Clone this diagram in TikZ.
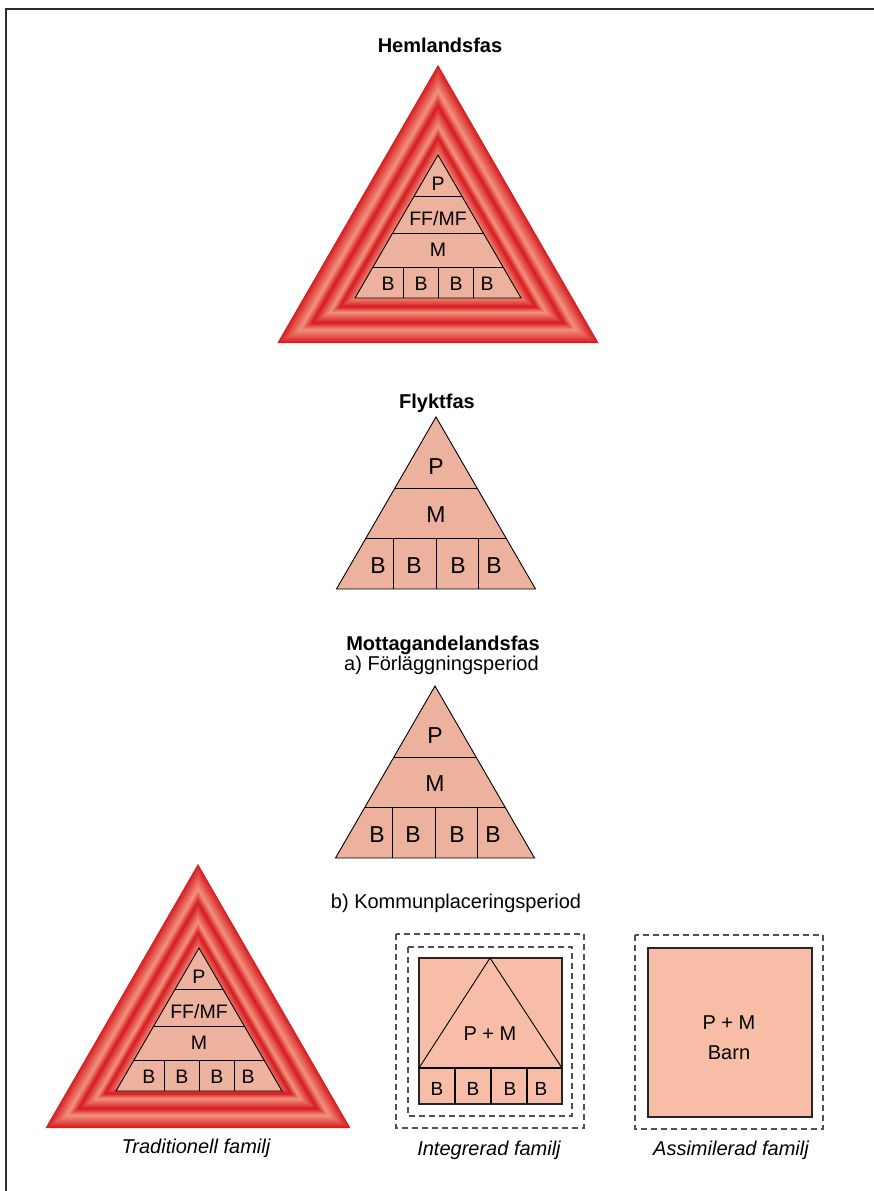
\documentclass[tikz,border=0pt]{standalone}
\usepackage{fontspec}
\setmainfont{Liberation Sans}
\definecolor{bevdark}{RGB}{215,28,32}
\definecolor{bevlight}{RGB}{243,148,128}
\definecolor{pyrfill}{RGB}{237,178,158}
\definecolor{sqfill}{RGB}{248,189,166}
\definecolor{framegray}{RGB}{45,45,45}
\definecolor{dashgray}{RGB}{80,80,80}
\newcommand\fsz[1]{\fontsize{#1}{#1}\selectfont}
% bevelled red triangle: centre x, centre y, inradius, band scale
\newcommand\bevtri[4]{%
  \foreach \bvk in {0,...,96}{%
    \pgfmathsetmacro\bvU{\bvk*0.5}%
    \pgfmathsetmacro\bvD{\bvU*#4}%
    \pgfmathsetmacro\bvA{\bvU<20 ? 0 : (\bvU<36 ? 20 : 36)}%
    \pgfmathsetmacro\bvB{\bvU<20 ? 20 : (\bvU<36 ? 36 : 51)}%
    \pgfmathsetmacro\bvT{(\bvU-\bvA)/(\bvB-\bvA)}%
    \pgfmathtruncatemacro\bvF{100*(\bvT<0.65 ? \bvT/0.65 : (1-\bvT)/0.35)}%
    \pgfmathsetmacro\bvR{#3-\bvD}%
    \fill[bevlight!\bvF!bevdark] ({#1},{#2-2*\bvR}) -- ({#1-1.7320508*\bvR},{#2+\bvR}) -- ({#1+1.7320508*\bvR},{#2+\bvR}) -- cycle;
  }}
% small pyramid with P, FF/MF, M, B B B B : name, apex x, apex y
\newcommand\smallpyr[3]{%
  \filldraw[pyrfill, draw=black, line width=0.9] ({#2},{#3}) -- ({#2-83},{#3+143}) -- ({#2+83},{#3+143}) -- cycle;
  \draw[line width=0.9] ({#2-23.8},{#3+41}) -- ({#2+23.8},{#3+41});
  \draw[line width=0.9] ({#2-45.3},{#3+78}) -- ({#2+45.3},{#3+78});
  \draw[line width=0.9] ({#2-65},{#3+112}) -- ({#2+65},{#3+112});
  \foreach \sx in {-35,0,35}{\draw[line width=0.9] ({#2+\sx},{#3+112}) -- ({#2+\sx},{#3+143});}
  \node[slbl] (#1P) at ({#2},{#3+35}) {P};
  \node[slbl] (#1F) at ({#2},{#3+70}) {FF/MF};
  \node[slbl] (#1M) at ({#2},{#3+101}) {M};
  \node[slbl] (#1Ba) at ({#2-50},{#3+135}) {B};
  \node[slbl] (#1Bb) at ({#2-17},{#3+135}) {B};
  \node[slbl] (#1Bc) at ({#2+18},{#3+135}) {B};
  \node[slbl] (#1Bd) at ({#2+49},{#3+135}) {B};
}
% big pyramid with P, M, B B B B
\newcommand\bigpyr[3]{%
  \filldraw[pyrfill, draw=black, line width=0.9] ({#2},{#3}) -- ({#2-99.5},{#3+172}) -- ({#2+99.5},{#3+172}) -- cycle;
  \draw[line width=0.9] ({#2-41.1},{#3+71}) -- ({#2+41.1},{#3+71});
  \draw[line width=0.9] ({#2-70},{#3+121}) -- ({#2+70},{#3+121});
  \foreach \sx in {-43,0,42}{\draw[line width=0.9] ({#2+\sx},{#3+121}) -- ({#2+\sx},{#3+172});}
  \node[blbl] (#1P) at ({#2},{#3+57}) {P};
  \node[blbl] (#1M) at ({#2},{#3+105}) {M};
  \node[blbl] (#1Ba) at ({#2-58},{#3+156}) {B};
  \node[blbl] (#1Bb) at ({#2-22},{#3+156}) {B};
  \node[blbl] (#1Bc) at ({#2+22},{#3+156}) {B};
  \node[blbl] (#1Bd) at ({#2+58},{#3+156}) {B};
}
\begin{document}
\begin{tikzpicture}[x=1pt,y=-1pt,
  title/.style={anchor=base, inner sep=0pt, font=\fsz{20}\bfseries},
  sub/.style={anchor=base, inner sep=0pt, font=\fsz{20}},
  capt/.style={anchor=base, inner sep=0pt, font=\fsz{20}\itshape},
  slbl/.style={anchor=base, inner sep=0pt, font=\fsz{19.5}},
  blbl/.style={anchor=base, inner sep=0pt, font=\fsz{23}},
  qlbl/.style={anchor=base, inner sep=0pt, font=\fsz{19}},
  dashbox/.style={draw=dashgray, line width=1.2, dash pattern=on 6 off 4},
  famsq/.style={fill=sqfill, draw=black!85, line width=1.3}]
\useasboundingbox (0,0) rectangle (874,1191);
\fill[white] (0,0) rectangle (874,1191);
% frame
\draw[framegray, line width=1.6] (874,9) -- (6,9) -- (6,1191);

% Hemlandsfas
\node[title] (t1) at (440,52) {Hemlandsfas};
\bevtri{438}{250.3}{92.7}{1}
\smallpyr{h}{438}{155}

% Flyktfas
\node[title] (t2) at (437,408) {Flyktfas};
\bigpyr{f}{436}{417}

% Mottagandelandsfas
\node[title] (t3) at (443,650) {Mottagandelandsfas};
\node[sub] (t3a) at (441.5,670) {a) Förläggningsperiod};
\bigpyr{m}{435}{686}
\node[sub] (t3b) at (456,908) {b) Kommunplaceringsperiod};

% Traditionell familj
\bevtri{198}{1040}{88}{0.95}
\smallpyr{tr}{199}{948}
\node[capt] (c1) at (196,1153) {Traditionell familj};

% Integrerad familj
\draw[dashbox] (396,934) rectangle (584,1128);
\draw[dashbox] (408,947) rectangle (572,1116);
\filldraw[famsq] (419,958) rectangle (562,1104);
\draw[line width=0.9] (490,958) -- (419,1068) -- (562,1068) -- cycle;
\draw[line width=1.1] (419,1068) -- (562,1068);
\foreach \vx in {455,491,527}{\draw[line width=1.1] (\vx,1068) -- (\vx,1104);}
\node[sub] (ipm) at (490,1040) {P + M};
\node[qlbl] (iBa) at (437,1095) {B};
\node[qlbl] (iBb) at (473,1095) {B};
\node[qlbl] (iBc) at (510,1095) {B};
\node[qlbl] (iBd) at (541,1095) {B};
\node[capt] (c2) at (489,1155) {Integrerad familj};

% Assimilerad familj
\draw[dashbox] (635,935) rectangle (823,1129);
\filldraw[famsq] (648,948) rectangle (812,1117);
\node[sub] (apm) at (729,1029) {P + M};
\node[sub] (abarn) at (729,1059) {Barn};
\node[capt] (c3) at (731,1155) {Assimilerad familj};
\end{tikzpicture}
\end{document}
